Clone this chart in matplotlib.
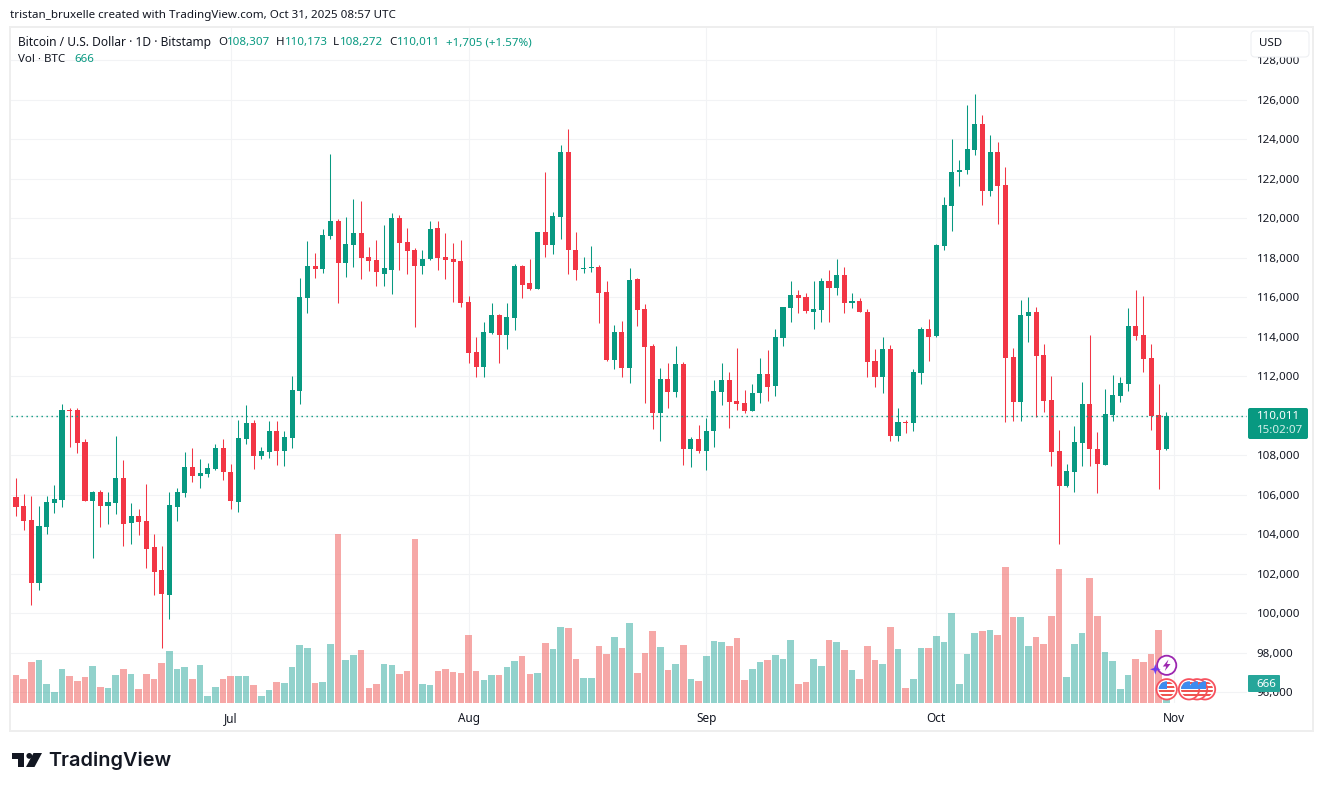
import pandas as pd
import matplotlib
matplotlib.use("Agg")
import matplotlib.pyplot as plt
from matplotlib.patches import Rectangle, FancyBboxPatch, Circle, Polygon
from matplotlib.transforms import Affine2D

# --- Daily candles ---
first_day = "2025-06-03"

opens = [
    105890, 105440, 104730, 101540, 104370, 105590, 105740, 110300, 110300, 108680,
    105690, 106150, 105440, 105590, 106850, 104580, 104930, 104680, 103360, 102200,
    100930, 105390, 106090, 107410, 106960, 107060, 107310, 108370, 107160, 105640,
    108830, 109640, 107970, 108170, 109230, 108220, 108880, 111270, 115980, 117600,
    117450, 119120, 119880, 117760, 118670, 119280, 118060, 117910, 117200, 117400,
    120040, 118820, 118420, 117610, 117960, 119530, 118060, 117960, 117860, 115780,
    113250, 112490, 114210, 115080, 114110, 114970, 117560, 116700, 116440, 119330,
    118670, 120090, 123380, 118420, 117420, 117460, 117510, 116290, 112850, 114260,
    112440, 116950, 115430, 113510, 110120, 111840, 111230, 112600, 108340, 108850,
    108240, 109250, 111230, 111790, 110770, 110670, 110220, 111130, 112140, 111530,
    113960, 115480, 116140, 115990, 115280, 115380, 116850, 116450, 117150, 115690,
    115790, 115280, 112750, 111990, 113360, 109000, 109710, 109660, 112190, 114370,
    114060, 118620, 120600, 122320, 122420, 123480, 124750, 121360, 123380, 121710,
    112980, 110700, 115060, 115260, 113080, 110800, 108220, 106450, 107160, 108620,
    110600, 108320, 107510, 110040, 111000, 111610, 114550, 114090, 112930, 110040,
    108307,
]
highs = [
    106850, 106040, 105940, 105440, 105940, 106500, 110600, 110400, 110400, 108830,
    106200, 106250, 106150, 108980, 107770, 105590, 105280, 106550, 104020, 103410,
    106150, 106350, 108170, 108370, 107820, 107610, 108580, 108830, 107560, 109790,
    110550, 109790, 108420, 109740, 109740, 109230, 112030, 117000, 118870, 118260,
    119480, 123230, 119980, 120090, 121000, 120900, 118570, 118920, 119680, 120290,
    120190, 119530, 118520, 118370, 119840, 119840, 119280, 118770, 118920, 116090,
    114010, 114770, 115730, 115130, 115730, 117710, 117660, 117960, 119330, 122320,
    120340, 123730, 124540, 119330, 118060, 118620, 117660, 116800, 114620, 114820,
    117460, 117000, 115640, 113660, 112440, 112650, 113510, 112700, 108950, 109510,
    109910, 111790, 112650, 112240, 113410, 111330, 111630, 112950, 113310, 114370,
    115530, 116850, 116390, 116240, 116800, 117000, 117360, 117960, 117510, 116240,
    115940, 115430, 113360, 114010, 113560, 110420, 109810, 112390, 114520, 114880,
    118720, 121100, 123990, 122930, 125760, 126270, 125250, 124240, 123840, 122620,
    113440, 115870, 116020, 115510, 113640, 112020, 109280, 107560, 109490, 111710,
    114090, 109180, 111360, 112070, 111970, 115460, 116370, 116070, 113640, 111610,
    110173,
]
lows = [
    104930, 104220, 100420, 101180, 104020, 105080, 105390, 108420, 108120, 105690,
    102800, 104370, 104520, 105030, 103410, 103510, 103970, 102300, 100930, 98250,
    99710, 104680, 105890, 106650, 106350, 106900, 107260, 106750, 105280, 105130,
    108580, 107310, 107820, 107870, 107510, 107460, 108370, 110620, 115220, 117000,
    117250, 118970, 115730, 117050, 117510, 116950, 117350, 116590, 116590, 116190,
    117400, 117200, 114520, 117200, 117910, 117400, 116950, 115780, 115530, 112690,
    111990, 111940, 114160, 112690, 113400, 114320, 115940, 116390, 116440, 118060,
    118210, 118970, 117200, 116900, 117250, 117300, 114720, 112750, 112390, 111990,
    111680, 114570, 110670, 109310, 108750, 110420, 110930, 107530, 107430, 108140,
    107280, 108440, 110570, 109360, 110270, 110120, 110220, 110670, 110770, 110980,
    113510, 114770, 115180, 115230, 114420, 114770, 114770, 116140, 115180, 115480,
    115280, 111990, 111480, 111130, 108700, 108700, 109150, 109250, 111630, 112750,
    114010, 118370, 119380, 121610, 122220, 123180, 120650, 121150, 119730, 109690,
    109740, 109740, 113740, 109940, 110190, 107460, 103510, 106400, 106140, 107460,
    107460, 106090, 107510, 109740, 110700, 111260, 113840, 112220, 109280, 106300,
    108272,
]
closes = [
    105390, 104680, 101540, 104420, 105640, 105790, 110300, 110250, 108630, 105690,
    106150, 105440, 105640, 106850, 104520, 104930, 104630, 103260, 102090, 100980,
    105490, 106150, 107410, 106960, 107110, 107360, 108370, 107160, 105690, 108880,
    109640, 107970, 108220, 109230, 108220, 108930, 111330, 116040, 117600, 117450,
    119170, 119880, 117760, 118720, 119280, 118010, 117860, 117300, 117460, 120040,
    118770, 118320, 117610, 117960, 119480, 118010, 117910, 117790, 115730, 113200,
    112490, 114260, 115080, 114110, 115020, 117560, 116640, 116440, 119330, 118670,
    120140, 123380, 118370, 117400, 117460, 117510, 116240, 112850, 114260, 112440,
    116900, 115380, 113460, 110120, 111840, 111230, 112600, 108340, 108850, 108240,
    109250, 111280, 111790, 110720, 110620, 110220, 111180, 112140, 111480, 114010,
    115530, 116140, 115940, 115330, 115430, 116850, 116450, 117150, 115690, 115790,
    115280, 112700, 111990, 113360, 109000, 109710, 109660, 112240, 114420, 114010,
    118670, 120650, 122320, 122470, 123530, 124750, 121360, 123380, 121660, 112930,
    110700, 115110, 115260, 113030, 110750, 108170, 106450, 107210, 108680, 110600,
    108320, 107560, 110090, 111060, 111660, 114550, 114040, 112880, 109990, 108270,
    110011,
]
volumes = [
    981, 841, 1437, 1507, 666, 385, 1191, 946, 771, 911,
    1296, 561, 526, 981, 1191, 1016, 491, 1016, 841, 1402,
    1822, 1191, 1261, 841, 1331, 245, 561, 841, 946, 946,
    946, 631, 245, 456, 736, 701, 1261, 2032, 1927, 701,
    736, 2067, 5922, 1507, 1682, 1857, 526, 666, 1367, 1331,
    1016, 1121, 5747, 666, 631, 1121,
    1191, 1086, 1051, 2383, 1121, 806, 981, 981, 1261, 1472,
    1647, 1016, 1051, 2102, 1892, 2663, 2628, 1542, 876, 876,
    1997, 1717, 2313, 1927, 2803, 1051, 1752, 2523, 1962, 1156,
    1367, 2032, 841, 771, 1647, 2172, 2137, 1997, 2278, 806,
    1191, 1437, 1507, 1682, 1542, 2208, 666, 736, 1542, 1296,
    2208, 2137, 1857, 1156, 841, 1997, 1507, 1367,
    2663, 1892, 526, 841, 1927, 1927, 2348, 2137, 3154, 666,
    1717, 2453, 2523, 2558, 2383, 4765, 3013, 3013, 1997, 2313,
    2067, 3048, 4695, 911, 2067, 2453, 4380, 3048, 1787, 1472,
    491, 981, 1542, 1437, 1717, 2558, 666,
]

price_ticks = list(range(96000, 130000, 2000))
month_starts = ["2025-07-01", "2025-08-01", "2025-09-01", "2025-10-01", "2025-11-01"]
month_labels = ["Jul", "Aug", "Sep", "Oct", "Nov"]

GREEN = "#089981"
RED = "#F23645"
VOL_GREEN = "#26a69a"
VOL_RED = "#ef5350"
INK = "#131722"
GRID = "#f2f3f5"
W, H = 1323, 791

plt.rcParams["font.family"] = ["Noto Sans", "DejaVu Sans"]
plt.rcParams["font.size"] = 8.3

fig = plt.figure(figsize=(W / 100, H / 100), dpi=100, facecolor="white")

# pixel coordinates with the origin top left, for the furniture round the chart
px = Affine2D().scale(1 / W, -1 / H).translate(0, 1) + fig.transFigure

# plot area in pixels
left, right, top, bottom = 11, 1247, 27, 703
ax = fig.add_axes([left / W, 1 - bottom / H, (right - left) / W, (bottom - top) / H])
ax.patch.set_visible(False)
for s in ax.spines.values():
    s.set_visible(False)

x = list(range(len(opens)))
dates = pd.date_range(first_day, periods=len(opens))
up = [c >= o for o, c in zip(opens, closes)]

# --- Volume, in the bottom of the same pane ---
vol_top = 23700  # BTC at the top of the pane
ax.bar(x, [v / vol_top for v in volumes], width=0.86,
       color=[VOL_GREEN if u else VOL_RED for u in up], alpha=0.5,
       transform=ax.get_xaxis_transform(), zorder=1)

# --- Candles ---
colors = [GREEN if u else RED for u in up]
ax.vlines(x, lows, highs, colors=colors, linewidth=0.75, zorder=2)
ax.bar(x, [abs(c - o) for o, c in zip(opens, closes)],
       bottom=[min(o, c) for o, c in zip(opens, closes)],
       width=0.66, color=colors, zorder=3)

# --- Last price line ---
ax.axhline(closes[-1], color=GREEN, linewidth=1, dashes=(1, 2.6), zorder=4)

# --- Axes ---
ax.set_xlim(-0.65, 160.5)
ax.set_ylim(95460, 129685)
ax.yaxis.tick_right()
ax.set_yticks(price_ticks)
ax.set_yticklabels([f"{p:,}" for p in price_ticks], color=INK, va="center_baseline")
month_x = [(pd.Timestamp(m) - dates[0]).days for m in month_starts]
ax.set_xticks(month_x)
ax.set_xticklabels(month_labels, color=INK, fontsize=8.5)
ax.tick_params(axis="y", length=0, pad=7)
ax.tick_params(axis="x", length=0, pad=6.3)
ax.set_axisbelow(True)
ax.grid(True, color=GRID, linewidth=0.8)

# --- Frame ---
fig.add_artist(Rectangle((10, 27), 1303, 704, transform=px, fill=False,
                         edgecolor="#eeeeee", linewidth=1.4, zorder=5))


def label(xp, yp, s, color=INK, **kw):
    fig.text(xp / W, 1 - yp / H, s, color=color, va="center", zorder=8, **kw)


def round_box(x0, y0, w, h, face, edge="none", rad=2):
    fig.add_artist(FancyBboxPatch((x0, y0), w, h, boxstyle=f"round,pad=0,rounding_size={rad}",
                                  transform=px, facecolor=face, edgecolor=edge,
                                  linewidth=0.8, zorder=7, mutation_aspect=1))


# --- Header ---
label(10, 15.5, "tristan_bruxelle created with TradingView.com, Oct 31, 2025 08:57 UTC", fontsize=8.37)
label(18, 42.8, "Bitcoin / U.S. Dollar · 1D · Bitstamp", fontsize=8.6)
label(218, 42.8, "O")
label(227, 42.8, "108,307", color=GREEN)
label(276, 42.8, "H")
label(284.5, 42.8, "110,173", color=GREEN)
label(333, 42.8, "L")
label(340, 42.8, "108,272", color=GREEN)
label(389, 42.8, "C")
label(397, 42.8, "110,011", color=GREEN)
label(446, 42.8, "+1,705 (+1.57%)", color=GREEN)
label(18, 59.7, "Vol · BTC")
label(74, 59.7, "666", color=GREEN)

# --- USD button ---
round_box(1251, 31, 58, 26, "white", edge="#eef0f3", rad=4)
label(1259, 44, "USD")

# --- Price and volume labels on the scale ---
round_box(1248, 408, 60, 31, GREEN, rad=2)
label(1257, 416.5, "110,011", color="white")
label(1257, 430.5, "15:02:07", color="#d5efea")
round_box(1248, 675, 32, 17, VOL_GREEN, rad=1)
label(1256, 684.5, "666", color="white")

# --- Event icons ---
for cx in [1205, 1197, 1189, 1166.7]:
    fig.add_artist(Circle((cx, 689.3), 10.2, transform=px, facecolor="white",
                          edgecolor="#F7525F", linewidth=1.3, zorder=6))
    clip = Circle((cx, 689.3), 8, transform=px)
    for dy in [-7.2, -3.2, 0.8, 4.8]:
        stripe = Rectangle((cx - 9, 689.3 + dy), 18, 2.2, transform=px,
                           facecolor="#EF5350", edgecolor="none", zorder=6.1)
        fig.add_artist(stripe)
        stripe.set_clip_path(clip)
    canton = Rectangle((cx - 9, 681), 9.5, 8, transform=px,
                       facecolor="#3D8BEF", edgecolor="none", zorder=6.2)
    fig.add_artist(canton)
    canton.set_clip_path(clip)

fig.add_artist(Circle((1166.7, 665.3), 9.6, transform=px, facecolor="white",
                      edgecolor="#9C27B0", linewidth=1.3, zorder=6))
fig.add_artist(Polygon([(1168.5, 659.5), (1162.8, 666.5), (1166.2, 666.5), (1164.8, 671),
                        (1170.5, 664), (1167, 664)], transform=px, facecolor="#9C27B0",
                       edgecolor="none", zorder=6.1))
fig.add_artist(Polygon([(1155.3, 664), (1156.6, 668), (1160.6, 669.3), (1156.6, 670.6),
                        (1155.3, 674.6), (1154, 670.6), (1150, 669.3), (1154, 668)],
                       transform=px, facecolor="#6C3CF0", edgecolor="none", zorder=6.2))

# --- Logo ---
logo = "#131722"
fig.add_artist(Polygon([(12, 753), (23.5, 753), (23.5, 767), (17.5, 767), (17.5, 758.5), (12, 758.5)],
                       transform=px, facecolor=logo, edgecolor="none"))
fig.add_artist(Circle((29.3, 755.9), 2.9, transform=px, facecolor=logo, edgecolor="none"))
fig.add_artist(Polygon([(33.5, 753), (42, 753), (34.5, 767), (26, 767)], transform=px,
                       facecolor=logo, edgecolor="none"))
label(48.5, 761, "TradingView", color=logo, family="Inter", weight="semibold", fontsize=14.3)

fig.savefig("out.png", dpi=100)
